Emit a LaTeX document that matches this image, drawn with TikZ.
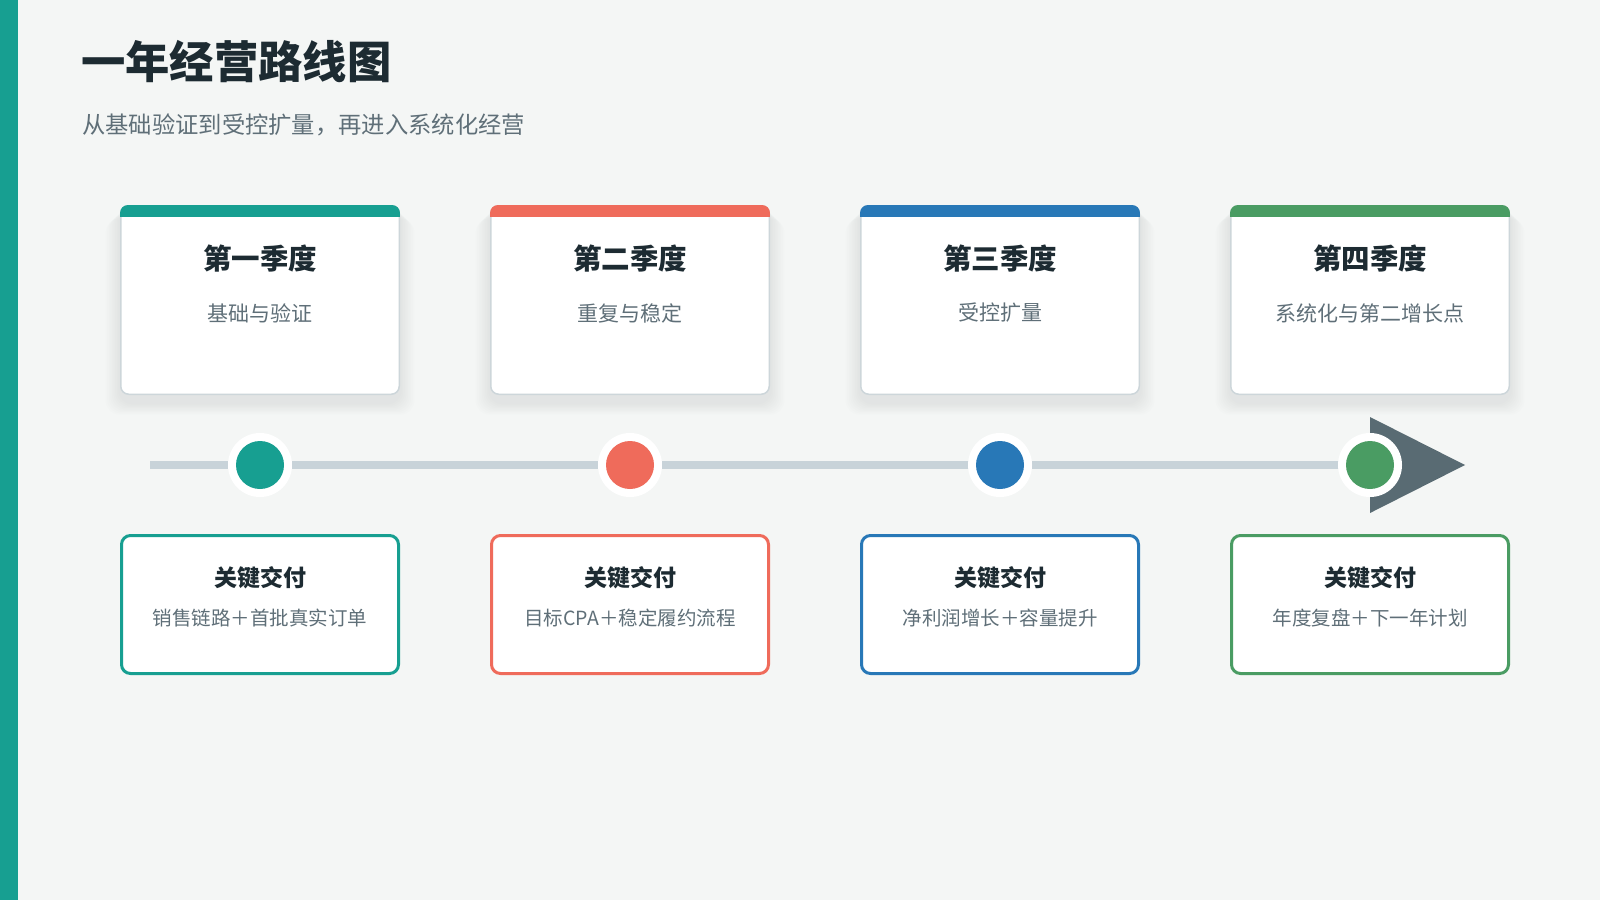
\documentclass[tikz,border=0pt]{standalone}
\usepackage{fontspec}
\setmainfont{Noto Sans CJK SC}
\definecolor{bg}{HTML}{F4F6F5}
\definecolor{cteal}{HTML}{179F91}
\definecolor{cred}{HTML}{EF6B5B}
\definecolor{cblue}{HTML}{2878B7}
\definecolor{cgreen}{HTML}{4A9C63}
\definecolor{arrowcol}{HTML}{596B73}
\definecolor{linecol}{HTML}{C8D3D9}
\definecolor{darktext}{HTML}{1D2B32}
\definecolor{graytext}{HTML}{5F6F78}
\definecolor{cardborder}{HTML}{CDD6DA}
\definecolor{shadowcol}{HTML}{6A8090}
\tikzset{
  card/.style={draw=cardborder, line width=1.5pt, fill=white, rounded corners=8pt,
    minimum width=278.5pt, minimum height=188.5pt, inner sep=0pt},
  shadowlayer/.style={fill=shadowcol, fill opacity=0.011, rounded corners=14pt},
  dbox/.style={fill=white, line width=3pt, rounded corners=9pt,
    minimum width=277pt, minimum height=138pt, inner sep=0pt},
  qtitle/.style={font=\fontsize{28.5}{34}\selectfont\bfseries, text=darktext, inner sep=0pt},
  qsub/.style={font=\fontsize{21}{26}\selectfont, text=graytext, inner sep=0pt},
  btitle/.style={font=\fontsize{23}{28}\selectfont\bfseries, text=darktext, inner sep=0pt},
  bsub/.style={font=\fontsize{19.5}{24}\selectfont, text=graytext, inner sep=0pt},
  ring/.style={circle, fill=white, minimum size=64pt, inner sep=0pt},
  dot/.style={circle, minimum size=48pt, inner sep=0pt},
}
\begin{document}
\begin{tikzpicture}[x=1pt,y=-1pt]
\useasboundingbox (0,0) rectangle (1600,900);
\fill[bg] (0,0) rectangle (1600,900);
\fill[cteal] (0,0) rectangle (18,900);
\node[anchor=west, inner sep=0pt, font=\fontsize{44.3}{52}\selectfont\bfseries, text=darktext] (title) at (81,62) {一年经营路线图};
\node[anchor=west, inner sep=0pt, font=\fontsize{23.3}{28}\selectfont, text=graytext] (subtitle) at (82,124.5) {从基础验证到受控扩量，再进入系统化经营};
% cards
\foreach \i/\x/\c/\q/\s in {1/260/cteal/第一季度/基础与验证, 2/630/cred/第二季度/重复与稳定, 3/1000/cblue/第三季度/受控扩量, 4/1370/cgreen/第四季度/系统化与第二增长点}{
  \foreach \k in {1,...,9}{
    \fill[shadowlayer] (\x-140-1.6*\k,205+1.5*\k) rectangle (\x+140+1.6*\k,395+8+1.3*\k);
  }
  \node[card] (q\i) at (\x,300) {};
  \begin{scope}
    \clip[rounded corners=8pt] (\x-140,205) rectangle (\x+140,395);
    \fill[\c] (\x-140,205) rectangle (\x+140,217);
  \end{scope}
  \node[qtitle] (qt\i) at (\x,258.5) {\q};
  \node[qsub] (qs\i) at (\x,313) {\s};
  \coordinate (p\i) at (\x,465);
}
% timeline
\coordinate (tstart) at (150,465);
\coordinate (tip) at (1465,465);
\draw[linecol, line width=8pt] (tstart) -- (p4);
\fill[arrowcol] (1370,417) -- (tip) -- (1370,513) -- cycle;
\foreach \i/\c in {1/cteal,2/cred,3/cblue,4/cgreen}{
  \node[ring] (r\i) at (p\i) {};
  \node[dot, fill=\c] (d\i) at (p\i) {};
}
% boxes
\foreach \i/\x/\c/\d in {1/260/cteal/销售链路＋首批真实订单, 2/630/cred/目标CPA＋稳定履约流程, 3/1000/cblue/净利润增长＋容量提升, 4/1370/cgreen/年度复盘＋下一年计划}{
  \node[dbox, draw=\c] (b\i) at (\x,604.5) {};
  \node[btitle] (bt\i) at (\x,578) {关键交付};
  \node[bsub] (bs\i) at (\x,618) {\d};
}
\end{tikzpicture}
\end{document}
